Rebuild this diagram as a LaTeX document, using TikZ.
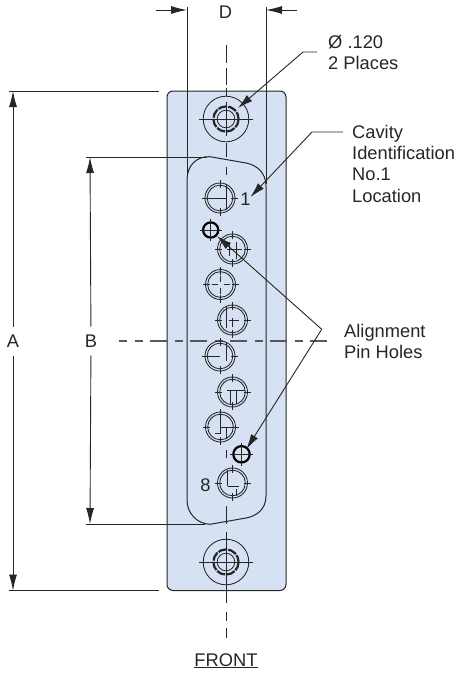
\documentclass[tikz,border=0pt]{standalone}
\usepackage{fontspec}
\setmainfont{Liberation Sans}
\usetikzlibrary {arrows.meta, positioning}
\definecolor{platefill}{HTML}{D6E1F3}
\definecolor{inkline}{HTML}{262626}
\tikzset{
  partline/.style={draw=inkline, line width=1pt},
  thinline/.style={draw=inkline, line width=.85pt},
  centerdash/.style={draw=black!65, line width=1.3pt},
  dimarrow/.style={draw=inkline, line width=.9pt, -{Latex[length=16pt,width=8pt]}},
  leader/.style={draw=inkline, line width=.9pt, -{Latex[length=15pt,width=8pt]}},
  caption/.style={inner sep=0pt, font=\fontsize{18.3}{21.2}\selectfont, text=black!85},
  notetext/.style={caption, align=left, anchor=north west},
  dimlabel/.style={caption, inner sep=8pt}
}
% one cavity: double ring, four ticks, contact lines given in #2
\newcommand{\cavity}[2]{%
  \begin{scope}[shift={(#1)}]
    \draw[thinline] (0,0) circle (15) (0,0) circle (12.8);
    \draw[thinline] (-18,0) -- (-11,0) (11,0) -- (18,0) (0,-18) -- (0,-10) (0,10) -- (0,18);
    \draw[thinline] #2;
  \end{scope}}
\newcommand{\mounthole}[1]{%
  \begin{scope}[shift={(#1)}]
    \draw[thinline] (0,0) circle (22.8) (0,0) circle (8.8);
    \draw[draw=inkline, line width=2.2pt, dash pattern=on 9pt off 1.2pt] (0,0) circle (12.6);
    \draw[thinline] (-27,0) -- (27,0) (0,-17) -- (0,17);
  \end{scope}}
\newcommand{\alignhole}[2]{%
  \begin{scope}[shift={(#1)}]
    \draw[draw=black, line width=2.2pt] (0,0) circle (#2);
    \draw[thinline] (-#2-3.5,0) -- (#2+3.5,0) (0,-#2-3.5) -- (0,#2+3.5);
  \end{scope}}
\begin{document}
\begin{tikzpicture}[x=1pt, y=-1pt]
  \useasboundingbox (0,0) rectangle (456,673);
  % plate and shell
  \draw[partline, fill=platefill, rounded corners=6pt] (167,91) rectangle (286,590.5);
  \draw[partline] (187,180) .. controls (187,165) and (197,156) .. (210,156.7)
    -- (246,163) .. controls (257,165) and (266,173) .. (266,186)
    -- (266,496) .. controls (266,509) and (257,516) .. (246,518)
    -- (210,524.3) .. controls (197,524) and (187,513) .. (187,500) -- cycle;
  % centre lines
  \foreach \ya/\yb in {45/63, 68/85, 88/96, 143/157, 167/175, 450/458, 506/524, 532/603, 612/621, 628/638}
    \draw[thinline] (226,\ya) -- (226,\yb);
  \draw[centerdash, dash pattern=on 16.5pt off 8pt on 8pt off 7.5pt, dash phase=9pt] (119,341) -- (328,341);
  % holes
  \mounthole{226,119}
  \mounthole{226,562}
  \cavity{220,198}{(-13,0) -- (6,0) (6,-13) -- (6,12)}
  \cavity{232.5,249}{(-3,-7) -- (-3,7) (4,-7) -- (4,10) (-6,0) -- (9,0)}
  \cavity{220.5,284.5}{(-9,0) -- (-3,0) (3,0) -- (9,0) (0,-9) -- (0,-3) (0,3) -- (0,9)}
  \cavity{232.5,320}{(-6,-13) -- (-6,8) (-4,0) -- (6,0) (0,-2) -- (0,7)}
  \cavity{220,356}{(-13,0) -- (0,0) (6,-13) -- (6,5)}
  \cavity{232.5,392}{(-6,-2) -- (12,-2) (-2,-2) -- (-2,12) (4,-2) -- (4,12)}
  \cavity{220.5,427}{(0,-13) -- (0,6) (0,6) -- (-6,6) (0,0) -- (13,0) (6,0) -- (6,12)}
  \cavity{232.5,483}{(-5,-13) -- (-5,3) (-5,3) -- (6,3) (4,6) -- (4,13)}
  \alignhole{210.7,230}{7.6}
  \alignhole{241.5,454.3}{8.2}
  % extension lines
  \draw[thinline] (187,7) -- (187,174) (266,7) -- (266,184);
  \draw[thinline] (9,91) -- (159,91) (9,590.5) -- (159,590.5);
  \draw[thinline] (86,157) -- (207,157) (86,524) -- (205,524);
  % dimensions
  \node[dimlabel] (dimA) at (13,341) {A};
  \node[dimlabel] (dimB) at (91,341) {B};
  \node[caption, anchor=base] (dimD) at (225.5,18.5) {D};
  \coordinate (Atop) at (13,91);
  \coordinate (Abottom) at (13,590.5);
  \coordinate (Btop) at (90,157);
  \coordinate (Bbottom) at (90,524);
  \draw[dimarrow] (dimA) -- (Atop);
  \draw[dimarrow] (dimA) -- (Abottom);
  \draw[dimarrow] (dimB) -- (Btop);
  \draw[dimarrow] (dimB) -- (Bbottom);
  \coordinate (Dleftfree) at (156,10);
  \coordinate (Dleft) at (187,10);
  \coordinate (Drightfree) at (297,10);
  \coordinate (Dright) at (266,10);
  \draw[dimarrow] (Dleftfree) -- (Dleft);
  \draw[dimarrow] (Drightfree) -- (Dright);
  % notes and leaders
  \node[notetext] (holenote) at (328,35) {Ø .120\\2 Places};
  \node[notetext] (cavitynote) at (352,125) {Cavity\\Identification\\No.1\\Location};
  \node[notetext] (pinnote) at (344,324) {Alignment\\Pin Holes};
  \node[caption, anchor=base] (cavityone) at (245.5,205) {1};
  \node[caption, anchor=base] (cavityeight) at (205.5,491.5) {8};
  \node[caption, anchor=base] (front) at (226,666) {\underline{FRONT}};
  \coordinate (holetip) at (238,108);
  \coordinate (holeelbow) at (303,52);
  \coordinate (holefree) at (317,52);
  \coordinate (cavitytip) at (250.5,197);
  \coordinate (cavityelbow) at (312,132);
  \coordinate (cavityfree) at (343,132);
  \coordinate (pinelbow) at (321.7,329.3);
  \coordinate (pintipa) at (217,236);
  \coordinate (pintipb) at (246.5,449);
  \draw[leader] (holefree) -- (holeelbow) -- (holetip);
  \draw[leader] (cavityfree) -- (cavityelbow) -- (cavitytip);
  \draw[leader] (pinelbow) -- (pintipa);
  \draw[leader] (pinelbow) -- (pintipb);
\end{tikzpicture}
\end{document}
